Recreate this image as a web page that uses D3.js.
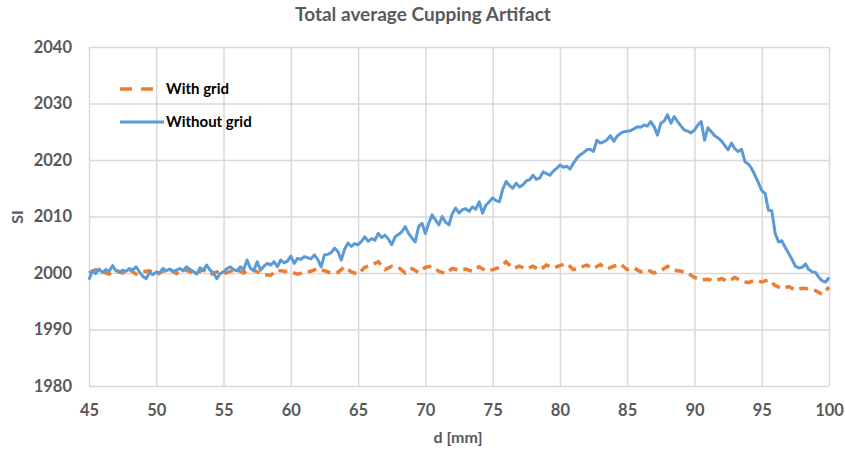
<!DOCTYPE html>
<html>
<head>
<meta charset="utf-8">
<script src="https://cdn.jsdelivr.net/npm/d3@7"></script>
<style>
  body { margin: 0; background: #fff; }
  svg text { font-family: Lato, "Open Sans", sans-serif; }
</style>
</head>
<body>
<svg id="chart"></svg>
<script>
// x ticks and y ticks
const xTicks = [45, 50, 55, 60, 65, 70, 75, 80, 85, 90, 95, 100];
const yTicks = [1980, 1990, 2000, 2010, 2020, 2030, 2040];

// SI without grid, sampled every 0.25 mm from 45 to 100
const withoutGrid = [
  1998.8, 2000.4, 1999.9, 2000.7, 2000.1, 2000.6, 2000.3, 2001.3, 2000.4, 2000.1,
  2000.5, 2000.3, 2000.8, 2000.5, 2001.1, 2000.2, 1999.4, 1999.0, 2000.1, 1999.7,
  2000.2, 2000.0, 2000.8, 2000.4, 2000.7, 2000.3, 2000.5, 2000.8, 2000.4, 2001.1,
  2000.6, 2000.3, 1999.8, 2000.9, 2000.5, 2001.4, 2000.5, 2000.0, 1999.0, 1999.9,
  2000.2, 2000.8, 2001.1, 2000.6, 2000.4, 2001.1, 2000.6, 2002.3, 2000.8, 2000.4,
  2002.0, 2000.5, 2001.2, 2001.7, 2001.4, 2002.0, 2001.1, 2002.3, 2001.8, 2002.1,
  2003.0, 2001.7, 2002.6, 2002.4, 2002.9, 2002.7, 2002.5, 2003.2, 2002.4, 2001.1,
  2003.2, 2003.3, 2003.6, 2004.4, 2003.8, 2002.3, 2004.2, 2005.3, 2004.7, 2005.2,
  2005.0, 2005.6, 2006.4, 2005.6, 2006.1, 2005.8, 2007.0, 2006.3, 2006.7, 2006.0,
  2005.0, 2006.4, 2006.8, 2007.3, 2008.2, 2007.0, 2006.2, 2005.5, 2008.2, 2008.8,
  2007.0, 2008.8, 2010.3, 2009.4, 2008.5, 2010.0, 2009.0, 2008.5, 2010.5, 2011.5,
  2010.6, 2011.2, 2011.4, 2010.9, 2011.7, 2011.3, 2012.6, 2010.6, 2012.0, 2012.6,
  2013.3, 2012.8, 2012.6, 2014.8, 2016.2, 2015.5, 2015.0, 2015.9, 2015.2, 2015.6,
  2016.3, 2016.5, 2017.3, 2016.6, 2016.8, 2017.9, 2017.6, 2017.3, 2018.0, 2018.5,
  2019.1, 2018.7, 2018.9, 2018.4, 2019.4, 2020.3, 2020.9, 2021.3, 2021.8, 2021.9,
  2021.5, 2023.5, 2023.0, 2023.2, 2023.6, 2024.3, 2023.3, 2024.2, 2024.7, 2025.0,
  2025.1, 2025.2, 2025.5, 2025.9, 2025.8, 2026.2, 2026.0, 2026.8, 2025.9, 2024.4,
  2026.5, 2026.9, 2028.0, 2026.5, 2027.7, 2026.8, 2026.0, 2025.3, 2025.1, 2024.8,
  2025.3, 2026.2, 2026.8, 2023.5, 2025.7, 2025.0, 2024.3, 2023.9, 2023.4, 2022.6,
  2021.8, 2023.0, 2022.0, 2021.5, 2021.9, 2019.7, 2019.3, 2018.5, 2017.3, 2016.0,
  2014.6, 2014.1, 2011.1, 2011.0, 2007.0, 2005.5, 2005.7, 2004.5, 2003.5, 2002.4,
  2001.2, 2000.9, 2001.0, 2001.6, 2000.6, 2000.2, 2000.1, 1999.2, 1998.6, 1998.4,
  1999.2
];

// SI with grid, sampled every 0.5 mm from 45 to 100
const withGrid = [
  2000.0, 2000.6, 2000.2, 1999.8, 2000.5, 2000.0, 2000.6, 1999.8, 2000.2, 2000.4,
  1999.7, 2000.3, 2000.6, 1999.9, 2000.7, 2000.2, 2000.0, 2000.6, 1999.7, 2000.2,
  1999.8, 2000.3, 2000.6, 2000.0, 2000.8, 2000.2, 1999.7, 1999.6, 2000.5, 2000.3,
  2000.2, 1999.8, 2000.1, 2000.3, 2000.8, 2000.4, 2000.0, 2000.1, 2001.1, 2000.2,
  1999.8, 2001.0, 2001.4, 2002.0, 2000.6, 2001.2, 2001.0, 2000.0, 2000.8, 2000.1,
  2001.0, 2001.2, 2000.3, 1999.9, 2000.8, 2000.5, 2000.7, 2000.3, 2001.1, 2000.4,
  2000.6, 2001.0, 2002.0, 2000.8, 2001.2, 2000.7, 2001.2, 2000.5, 2001.4, 2000.9,
  2001.3, 2001.7, 2000.6, 2001.0, 2001.4, 2000.8, 2001.5, 2000.7, 2001.2, 2001.6,
  2000.6, 2000.9, 2000.2, 2000.6, 2000.0, 2000.4, 2001.2, 2000.5, 2000.3, 2000.0,
  1999.2, 1998.8, 1998.9, 1998.6, 1999.0, 1998.5, 1999.2, 1998.6, 1998.3, 1998.7,
  1998.4, 1998.8, 1997.8, 1997.2, 1997.6, 1997.0, 1997.3, 1997.2, 1996.9, 1996.2,
  1997.5
];

const distFine = d3.range(withoutGrid.length).map(i => 45 + i * 0.25);
const distCoarse = d3.range(withGrid.length).map(i => 45 + i * 0.5);

const w = 845;
const h = 453;
const m = { left: 89, right: 16, top: 47, bottom: 67 };

const svg = d3.select("#chart").attr("width", w).attr("height", h);

const xScale = d3.scaleLinear().domain([45, 100]).range([m.left, w - m.right]);
const yScale = d3.scaleLinear().domain([1980, 2040]).range([h - m.bottom, m.top]);

// gridlines
svg.append("g")
  .attr("transform", "translate(0," + (h - m.bottom) + ")")
  .call(d3.axisBottom(xScale).tickValues(xTicks).tickSize(-(h - m.bottom - m.top)).tickFormat(""))
  .call(g => g.select(".domain").remove())
  .selectAll("line").attr("stroke", "#d9d9d9").attr("stroke-width", 1.5);

svg.append("g")
  .attr("transform", "translate(" + m.left + ",0)")
  .call(d3.axisLeft(yScale).tickValues(yTicks).tickSize(-(w - m.right - m.left)).tickFormat(""))
  .call(g => g.select(".domain").remove())
  .selectAll("line").attr("stroke", "#d9d9d9").attr("stroke-width", 1.5);

// tick labels
let axisX = d3.axisBottom(xScale).tickValues(xTicks).tickSize(0).tickPadding(18).tickFormat(d3.format("d"));
svg.append("g").attr("transform", "translate(0," + (h - m.bottom) + ")").call(axisX)
  .call(g => g.select(".domain").remove())
  .selectAll("text").attr("font-size", 16.5).attr("font-weight", "bold").attr("fill", "#595959")
  .style("font-family", "Lato, sans-serif");

let axisY = d3.axisLeft(yScale).tickValues(yTicks).tickSize(0).tickPadding(17).tickFormat(d3.format("d"));
svg.append("g").attr("transform", "translate(" + m.left + ",0)").call(axisY)
  .call(g => g.select(".domain").remove())
  .selectAll("text").attr("font-size", 16.5).attr("font-weight", "bold").attr("fill", "#595959")
  .style("font-family", "Lato, sans-serif");

// lines
const line = d3.line().x(d => xScale(d[0])).y(d => yScale(d[1]));

svg.append("path")
  .datum(distCoarse.map((d, i) => [d, withGrid[i]]))
  .attr("d", line)
  .attr("fill", "none")
  .attr("stroke", "#ed7d31")
  .attr("stroke-width", 3.5)
  .attr("stroke-dasharray", "9,6");

svg.append("path")
  .datum(distFine.map((d, i) => [d, withoutGrid[i]]))
  .attr("d", line)
  .attr("fill", "none")
  .attr("stroke", "#5b9bd5")
  .attr("stroke-width", 3)
  .attr("stroke-linejoin", "round");

// titles
svg.append("text").attr("x", 423).attr("y", 21).attr("text-anchor", "middle")
  .attr("font-size", 19).attr("font-weight", "bold").attr("fill", "#595959")
  .text("Total average Cupping Artifact");

svg.append("text").attr("x", 458).attr("y", 443).attr("text-anchor", "middle")
  .attr("font-size", 16).attr("font-weight", "bold").attr("fill", "#595959")
  .text("d [mm]");

svg.append("text").attr("transform", "translate(23,217) rotate(-90)").attr("text-anchor", "middle")
  .attr("font-size", 16).attr("font-weight", "bold").attr("fill", "#595959")
  .text("SI");

// legend
const legend = svg.append("g");
legend.append("line").attr("x1", 120).attr("x2", 154).attr("y1", 89).attr("y2", 89)
  .attr("stroke", "#ed7d31").attr("stroke-width", 3.5).attr("stroke-dasharray", "12,9");
legend.append("text").attr("x", 166).attr("y", 94).attr("font-size", 15).attr("font-weight", "bold")
  .attr("fill", "#000").text("With grid");
legend.append("line").attr("x1", 120).attr("x2", 164).attr("y1", 122).attr("y2", 122)
  .attr("stroke", "#5b9bd5").attr("stroke-width", 3);
legend.append("text").attr("x", 166).attr("y", 127).attr("font-size", 15).attr("font-weight", "bold")
  .attr("fill", "#000").text("Without grid");
</script>
</body>
</html>
